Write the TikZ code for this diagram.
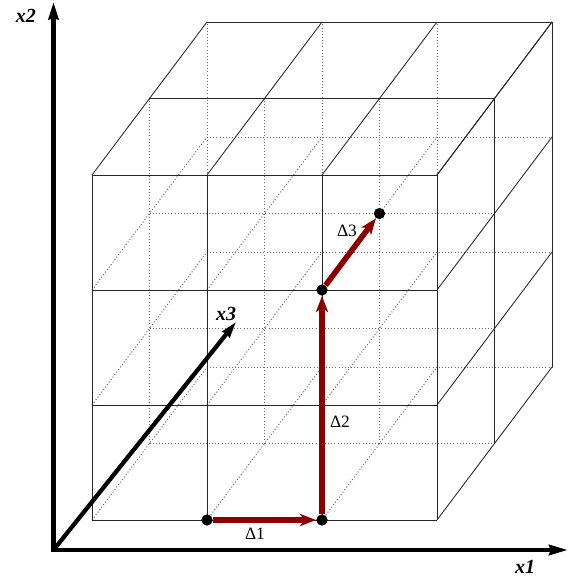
\documentclass[tikz,border=0pt]{standalone}
\usepackage{fontspec}
\setmainfont{Liberation Serif}
\usetikzlibrary{arrows.meta}
\definecolor{pathred}{RGB}{140,0,0}
\begin{document}
\begin{tikzpicture}[x=0.75pt,y=-0.75pt,
  gridline/.style={line width=0.65pt, black!85},
  hidden/.style={line width=0.75pt, black!60, dash pattern=on 0.75pt off 1.6pt},
  axisline/.style={line width=3.2pt},
  axislabel/.style={font=\fontsize{15}{17}\selectfont\bfseries\itshape, inner sep=0pt},
  stepline/.style={line width=4.2pt, pathred, -{Stealth[length=12pt,width=9pt,inset=3pt]}},
  steplabel/.style={font=\fontsize{13}{15}\selectfont, inner sep=0pt},
  dot/.style={circle, fill=black, minimum size=8.5pt, inner sep=0pt}]
\useasboundingbox (0,0) rectangle (570,579);

% 3 x 3 x 2 lattice (oblique projection)
\begin{scope}[shift={(92,520)}, x={(86.25pt,0pt)}, y={(0pt,86.25pt)}, z={(43.125pt,57.375pt)}]
  % hidden lines
  \foreach \k in {1,2} {
    \foreach \i in {0,1,2} { \draw[hidden] (\i,0,\k) -- (\i,3,\k); }
    \foreach \j in {0,1,2} { \draw[hidden] (0,\j,\k) -- (3,\j,\k); }
  }
  \foreach \i in {0,1,2} {
    \foreach \j in {0,1,2} { \draw[hidden] (\i,\j,0) -- (\i,\j,2); }
  }
  % front face
  \foreach \i in {0,1,2,3} { \draw[gridline] (\i,0,0) -- (\i,3,0); }
  \foreach \j in {0,1,2,3} { \draw[gridline] (0,\j,0) -- (3,\j,0); }
  % top face
  \foreach \i in {0,1,2,3} { \draw[gridline] (\i,3,0) -- (\i,3,2); }
  \foreach \k in {1,2} { \draw[gridline] (0,3,\k) -- (3,3,\k); }
  % right face
  \foreach \j in {0,1,2,3} { \draw[gridline] (3,\j,0) -- (3,\j,2); }
  \foreach \k in {1,2} { \draw[gridline] (3,0,\k) -- (3,3,\k); }
\end{scope}

% axes
\coordinate (O) at (53.5,550);
\coordinate (x2tip) at (53.5,2);
\coordinate (x1tip) at (568,550);
\coordinate (x3tip) at (236,322);
\draw[axisline, miter limit=10, {Stealth[length=13pt,width=7.5pt,inset=1pt]}-{Stealth[length=14pt,width=7.5pt,inset=1pt]}] (x2tip) -- (O) -- (x1tip);
\draw[axisline, -{Stealth[length=12pt,width=7pt,inset=1pt]}] (O) -- (x3tip);
\node[axislabel] (lx2) at (26,16) {x2};
\node[axislabel] (lx1) at (525,567) {x1};
\node[axislabel] (lx3) at (226,314) {x3};

% path
\node[dot] (d0) at (207,520) {};
\node[dot] (d1) at (322,520) {};
\node[dot] (d2) at (322,290) {};
\node[dot] (d3) at (379.5,213.5) {};
\draw[stepline] (d0) -- (d1);
\draw[stepline] (d1) -- (d2);
\draw[stepline] (d2) -- (d3);
\node[steplabel] (l1) at (255,534) {Δ1};
\node[steplabel] (l2) at (340,422) {Δ2};
\node[steplabel] (l3) at (347,231) {Δ3};
\end{tikzpicture}
\end{document}
